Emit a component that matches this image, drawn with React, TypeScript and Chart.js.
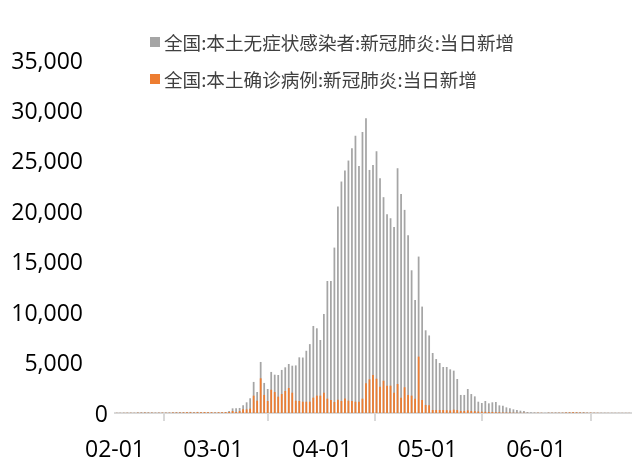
import React, { useEffect, useRef } from 'react';
import { Chart, registerables } from 'chart.js';

Chart.register(...registerables);

// Series names (legend)
const seriesNames = ['全国:本土无症状感染者:新冠肺炎:当日新增', '全国:本土确诊病例:新冠肺炎:当日新增'];
const seriesColors = ['#A5A5A5', '#ED7D31'];

// Month tick labels and the day index (0 = 02-01) where each month starts
const monthTickLabels = ['02-01', '03-01', '04-01', '05-01', '06-01'];
const monthTickDayIndex = [0, 28, 59, 89, 120];

// Value axis ticks
const yTickValues = [0, 5000, 10000, 15000, 20000, 25000, 30000, 35000];

// Daily values from 02-01 to 06-27
const asymptomatic = [
  20, 20, 25, 30, 30, 25,
  60, 70, 80, 70, 60,
  40, 40, 50, 40, 50,
  80, 90, 100, 90, 100, 110, 100, 110,
  90, 100, 90, 80, 70, 80, 90, 100,
  200, 460, 460, 500, 760, 1060, 1460, 3080,
  2080, 5060, 2980, 2380, 4070, 3800, 3770, 4270,
  4530, 4860, 4690, 4720, 5520, 5500, 6170, 6830,
  8630, 8400, 7240, 9820, 13090, 13090, 16400, 20470,
  22950, 24040, 25030, 26260, 27480, 24500, 27870, 29230,
  24100, 24600, 25960, 23280, 21400, 19710, 19310, 18450,
  24270, 21720, 20140, 17630, 14150, 11210, 15510, 10550,
  8200, 7690, 5950, 5350, 4960, 4560, 4560, 4330,
  4200, 3370, 1790, 1790, 2380, 1880, 1650, 1120,
  990, 1190, 960, 1060, 1090, 760, 730, 560,
  460, 360, 300, 230, 200, 100, 70, 60,
  40, 30, 30, 60, 50, 60, 40, 50,
  70, 80, 100, 90, 70, 90, 60, 40,
  30, 20, 20, 20, 15, 15, 10, 10, 10, 10, 10,
];

const confirmed = [
  10, 10, 15, 20, 20, 15,
  30, 30, 40, 30, 30,
  20, 20, 30, 20, 30,
  50, 50, 60, 60, 70, 70, 60, 80,
  80, 90, 80, 70, 60, 70, 80, 90,
  100, 200, 100, 200, 360, 360, 430, 1720,
  1220, 3440, 1790, 1190, 2310, 2080, 1620, 1880,
  2180, 2480, 2010, 1220, 1190, 1120, 1120, 1120,
  1520, 1720, 1720, 2010, 1420, 1290, 1090, 1320,
  1190, 1450, 1220, 1190, 1120, 1120, 1420, 2940,
  3340, 3770, 3400, 2610, 3200, 2710, 2710, 2010,
  2880, 1520, 2550, 1790, 1720, 1420, 5590, 1290,
  800, 770, 300, 300, 300, 300, 280, 250,
  330, 290, 200, 200, 260, 200, 180, 150,
  130, 120, 100, 100, 80, 80, 60, 50,
  40, 30, 30, 20, 20, 10, 10, 10,
  20, 20, 10, 20, 20, 20, 20, 30,
  40, 60, 80, 60, 50, 40, 30, 30,
  20, 20, 10, 10, 10, 10, 10, 10, 10, 10, 10,
];

const axisFont = '23px "Open Sans"';

// Draws the value-axis labels (right aligned; the zero label sits next to the origin)
const yLabelPlugin = {
  id: 'yLabels',
  afterDraw(chart: any) {
    const y = chart.scales.y;
    const ctx = chart.ctx;
    ctx.save();
    ctx.font = axisFont;
    ctx.fillStyle = '#000';
    ctx.textAlign = 'right';
    ctx.textBaseline = 'middle';
    yTickValues.forEach((v) => {
      const py = y.getPixelForValue(v) + 2;
      const px = v === 0 ? 108 : 83;
      ctx.fillText(v.toLocaleString('en-US'), px, py);
    });
    ctx.restore();
  },
};

export default function App() {
  const canvasRef = useRef<HTMLCanvasElement | null>(null);

  useEffect(() => {
    if (!canvasRef.current) return;
    const n = asymptomatic.length;
    const chart = new Chart(canvasRef.current, {
      type: 'bar',
      data: {
        datasets: [
          {
            label: seriesNames[0],
            data: asymptomatic.map((v, i) => ({ x: i, y: v })),
            backgroundColor: seriesColors[0],
            grouped: false,
            order: 2,
            barPercentage: 0.5,
            categoryPercentage: 1,
          } as any,
          {
            label: seriesNames[1],
            data: confirmed.map((v, i) => ({ x: i, y: v })),
            backgroundColor: seriesColors[1],
            grouped: false,
            order: 1,
            barPercentage: 0.5,
            categoryPercentage: 1,
          } as any,
        ],
      },
      options: {
        animation: false,
        responsive: true,
        maintainAspectRatio: false,
        layout: { padding: { top: 60, left: 0, right: 1, bottom: 0 } },
        plugins: {
          legend: { display: false },
          tooltip: { enabled: false },
        },
        scales: {
          x: {
            type: 'linear',
            min: -0.5,
            max: n - 0.5,
            offset: false,
            afterBuildTicks: (scale: any) => {
              scale.ticks = monthTickDayIndex.map((d) => ({ value: d - 0.5 }));
            },
            afterFit: (scale: any) => {
              scale.height = 48;
            },
            ticks: {
              autoSkip: false,
              maxRotation: 0,
              minRotation: 0,
              padding: 16,
              color: '#000',
              font: { family: '"Open Sans"', size: 23 },
              callback: (value: any) => {
                const idx = monthTickDayIndex.findIndex((d) => Math.abs(d - 0.5 - value) < 1e-6);
                return idx >= 0 ? monthTickLabels[idx] : '';
              },
            },
            grid: {
              display: true,
              drawOnChartArea: false,
              drawTicks: true,
              tickLength: 8,
              color: '#D9D9D9',
              lineWidth: 2,
            },
            border: { display: true, color: '#D9D9D9', width: 2 },
          },
          y: {
            min: 0,
            max: yTickValues[yTickValues.length - 1],
            afterBuildTicks: (scale: any) => {
              scale.ticks = yTickValues.map((v) => ({ value: v }));
            },
            afterFit: (scale: any) => {
              scale.width = 115;
            },
            ticks: { display: false },
            grid: { display: false, drawTicks: false },
            border: { display: false },
          },
        },
      },
      plugins: [yLabelPlugin],
    });
    return () => chart.destroy();
  }, []);

  const legendRow = (i: number, top: number) => (
    <div
      key={i}
      style={{
        position: 'absolute',
        left: 150,
        top,
        height: 19,
        display: 'flex',
        alignItems: 'center',
        fontFamily: '"Noto Sans CJK SC", sans-serif',
        fontSize: 18.6,
        lineHeight: '19px',
        color: '#404040',
        whiteSpace: 'nowrap',
      }}
    >
      <span style={{ display: 'inline-block', width: 10, height: 10, background: seriesColors[i], marginRight: 4 }} />
      <span>{seriesNames[i]}</span>
    </div>
  );

  return (
    <div style={{ position: 'absolute', left: 0, top: 0, width: 632, height: 461, background: '#fff' }}>
      <canvas ref={canvasRef} />
      {legendRow(0, 32)}
      {legendRow(1, 69)}
    </div>
  );
}
